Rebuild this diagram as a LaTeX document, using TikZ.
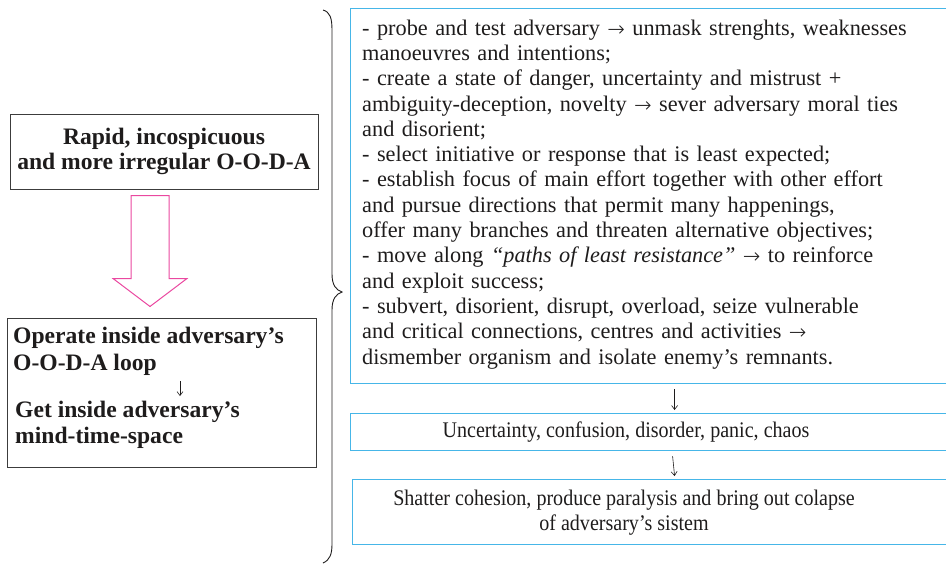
\documentclass[tikz,border=0pt]{standalone}
\usepackage{graphicx}
\usepackage{fontspec}
\setmainfont{Liberation Serif}
\newfontfamily\djv{DejaVu Sans ExtraLight}
\usetikzlibrary{arrows.meta}
\definecolor{bluec}{RGB}{70,182,232}
\definecolor{pinkc}{RGB}{234,72,160}
\definecolor{grayc}{RGB}{60,60,60}
\definecolor{textc}{RGB}{30,28,28}
\newcommand{\rarr}{\raisebox{-1pt}{\djv\fontsize{21}{22}\selectfont →}}
\begin{document}
\begin{tikzpicture}[x=1pt,y=-1pt,
  leftbox/.style={draw=grayc, line width=1pt, inner sep=0},
  boldtxt/.style={font=\fontsize{23.6}{25}\selectfont\bfseries, text=textc, inner sep=0},
  bluebox/.style={draw=bluec, line width=1.2pt, inner sep=0},
  bodytxt/.style={font=\fontsize{22.3}{25.3}\selectfont, text=textc, inner sep=0},
  arr/.style={draw=textc, line width=0.6pt, -{Straight Barb[length=4pt,width=6pt]}},
  hollow/.style={draw=pinkc, line width=1pt, line join=miter},
  bracestyle/.style={draw=textc, line width=0.9pt}]
\useasboundingbox (0,0) rectangle (946,565);
\clip (0,0) rectangle (946,565);

% left column
\node[leftbox, boldtxt, minimum width=308, minimum height=75, align=center] (a) at (164,151.5)
  {Rapid, incospicuous\\and more irregular O-O-D-A};
\node[leftbox, minimum width=309, minimum height=149, anchor=north west] (b) at (7,318) {};
\node[boldtxt, anchor=west] (b1) at (13,338) {Operate inside adversary’s};
\node[boldtxt, anchor=west] (b2) at (13,365) {O-O-D-A loop};
\node[boldtxt, anchor=west] (b3) at (15,412) {Get inside adversary’s};
\node[boldtxt, anchor=west] (b4) at (15,438) {mind-time-space};
\coordinate (d1) at (180,381);
\coordinate (d2) at (180,396);
\draw[arr] (d1) -- (d2);

% hollow pink arrow
\coordinate (ps) at ([xshift=-14pt,yshift=-6pt]a.south);
\draw[hollow] (ps) ++(-19,0) -- ++(38,0) -- ++(0,83) -- ++(18,0) -- ++(-37,28) -- ++(-37,-28) -- ++(18,0) -- cycle;

% brace
\draw[bracestyle] (323,10) .. controls (330,12) and (332,18) .. (332,30) -- (332,274)
  .. controls (332,285) and (336,290) .. (342,292)
  .. controls (336,294) and (332,299) .. (332,310) -- (332,544)
  .. controls (332,554) and (330,560) .. (323,563);

% right column
\node[bluebox, anchor=north west, minimum width=620, minimum height=375] (big) at (350,8) {};
\node[bodytxt, anchor=north west, align=left, text width=580] (bigtxt) at (362,19.5) {%
- probe and test adversary \rarr{} unmask strenghts, weaknesses\\
manoeuvres and intentions;\\
- create a state of danger, uncertainty and mistrust +\\
ambiguity-deception, novelty \rarr{} sever adversary moral ties\\
and disorient;\\
- select initiative or response that is least expected;\\
- establish focus of main effort together with other effort\\
and pursue directions that permit many happenings,\\
offer many branches and threaten alternative objectives;\\
- move along \textit{“paths of least resistance”} \rarr{} to reinforce\\
and exploit success;\\
- subvert, disorient, disrupt, overload, seize vulnerable\\
and critical connections, centres and activities \rarr\\
dismember organism and isolate enemy’s remnants.};

\node[bluebox, anchor=north west, minimum width=620, minimum height=37] (u) at (350,413) {};
\node[bodytxt] (ut) at (626,432) {\scalebox{0.9}[1]{Uncertainty, confusion, disorder, panic, chaos}};

\node[bluebox, anchor=north west, minimum width=620, minimum height=65] (s) at (352,479) {};
\node[bodytxt, align=center] (st) at (624,513)
  {\scalebox{0.9}[1]{Shatter cohesion, produce paralysis and bring out colapse}\\
   \scalebox{0.9}[1]{of adversary’s sistem}};

\draw[arr] ([xshift=14pt,yshift=-5pt]big.south) -- ([xshift=14pt,yshift=3pt]u.north);
\draw[arr] ([xshift=12pt,yshift=-5pt]u.south) -- ([xshift=12pt,yshift=3pt]s.north);
\end{tikzpicture}
\end{document}
